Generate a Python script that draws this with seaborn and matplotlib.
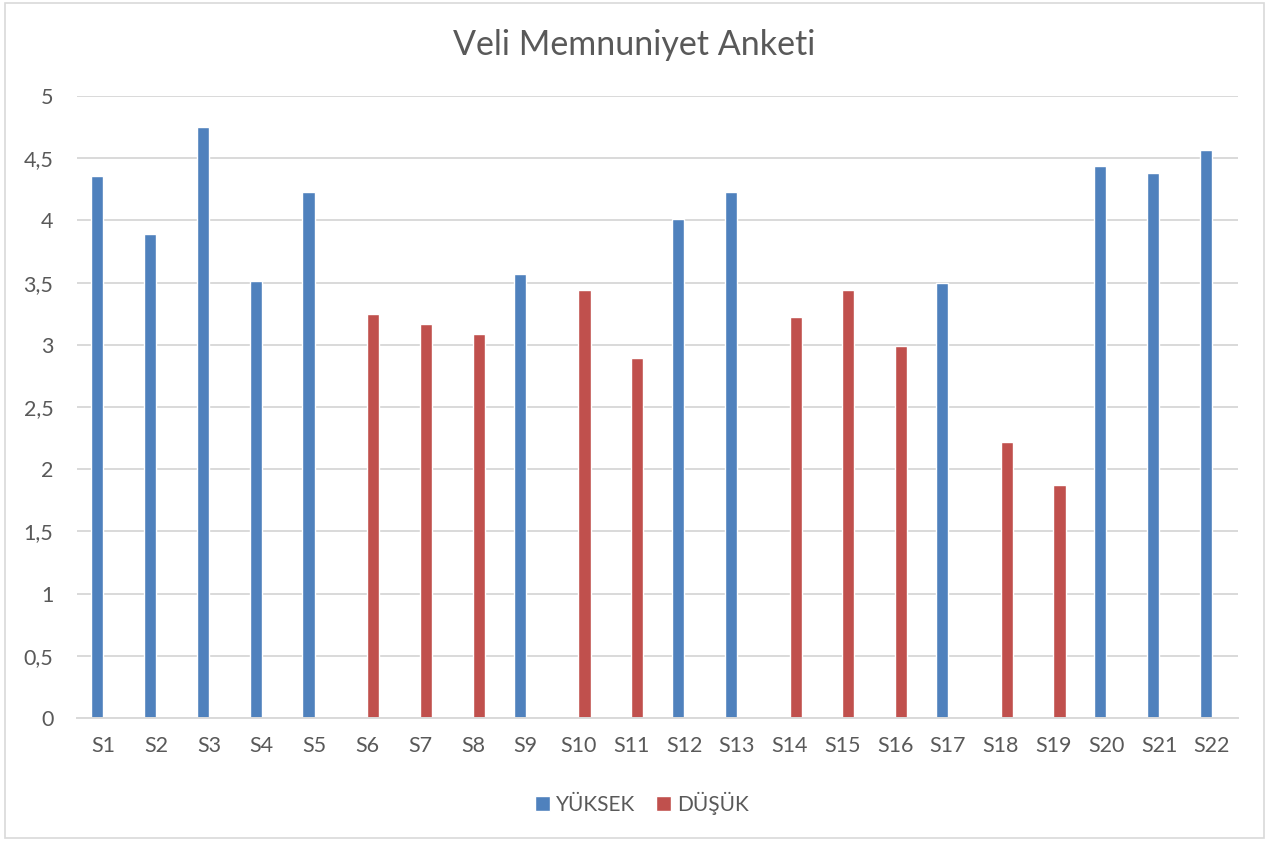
import numpy as np
import pandas as pd
import matplotlib
matplotlib.use("Agg")
import matplotlib.pyplot as plt
import seaborn as sns
from matplotlib.patches import Rectangle

# data
categories = [f"S{i}" for i in range(1, 23)]
scores = [4.36, 3.89, 4.75, 3.51, 4.23, 3.25, 3.17, 3.09, 3.57, 3.44, 2.89,
          4.01, 4.23, 3.22, 3.44, 2.99, 3.50, 2.22, 1.87, 4.44, 4.38, 4.57]
groups = ["YÜKSEK", "YÜKSEK", "YÜKSEK", "YÜKSEK", "YÜKSEK", "DÜŞÜK", "DÜŞÜK",
          "DÜŞÜK", "YÜKSEK", "DÜŞÜK", "DÜŞÜK", "YÜKSEK", "YÜKSEK", "DÜŞÜK",
          "DÜŞÜK", "DÜŞÜK", "YÜKSEK", "DÜŞÜK", "DÜŞÜK", "YÜKSEK", "YÜKSEK",
          "YÜKSEK"]
hue_order = ["YÜKSEK", "DÜŞÜK"]
yticks = [0, 0.5, 1, 1.5, 2, 2.5, 3, 3.5, 4, 4.5, 5]

df = pd.DataFrame({"soru": categories, "puan": scores, "grup": groups})

sns.set_theme(style="white")
plt.rcParams['font.family'] = ['Lato', 'DejaVu Sans']
text_col = "#595959"

fig = plt.figure(figsize=(12.69, 8.41), dpi=100)
ax = fig.add_axes([0.0607, 0.1463, 0.915, 0.7395])

sns.barplot(data=df, x="soru", y="puan", hue="grup", hue_order=hue_order,
            order=categories, palette=["#4F81BD", "#C0504D"], width=0.46,
            dodge=True, errorbar=None, ax=ax, saturation=1)

ax.set_ylim(0, 5)
ax.set_xlim(-0.5, len(categories) - 0.5)
ax.set_yticks(yticks)
ax.set_yticklabels([f"{t:g}".replace(".", ",") for t in yticks])
ax.yaxis.grid(True, color="#D9D9D9", linewidth=1.4)
ax.set_axisbelow(True)
for s in ["top", "right", "left"]:
    ax.spines[s].set_visible(False)
ax.spines["bottom"].set_color("#D9D9D9")
ax.spines["bottom"].set_linewidth(1.4)
ax.tick_params(axis="both", length=0, labelsize=15.5, colors=text_col)
ax.tick_params(axis="y", pad=17)
ax.tick_params(axis="x", pad=13)
ax.set_xlabel("")
ax.set_ylabel("")

# title centred on the whole chart, not on the plot area
fig.suptitle("Veli Memnuniyet Anketi", fontsize=24.5, color=text_col,
             x=0.5, y=1 - 45 / 841, va="center")

handles, labels = ax.get_legend_handles_labels()
ax.get_legend().remove()
fig.legend(handles, labels, loc="center", bbox_to_anchor=(0.506, 1 - 803 / 841),
           ncol=2, frameon=False, fontsize=15, handlelength=0.7, handleheight=0.7,
           handletextpad=0.3, columnspacing=1.0, labelcolor=text_col)

# chart border
fig.patches.append(Rectangle((0.004, 0.003), 0.992, 0.994, transform=fig.transFigure,
                             fill=False, edgecolor="#D9D9D9", linewidth=1.2))

fig.savefig("out.png", dpi=100)
